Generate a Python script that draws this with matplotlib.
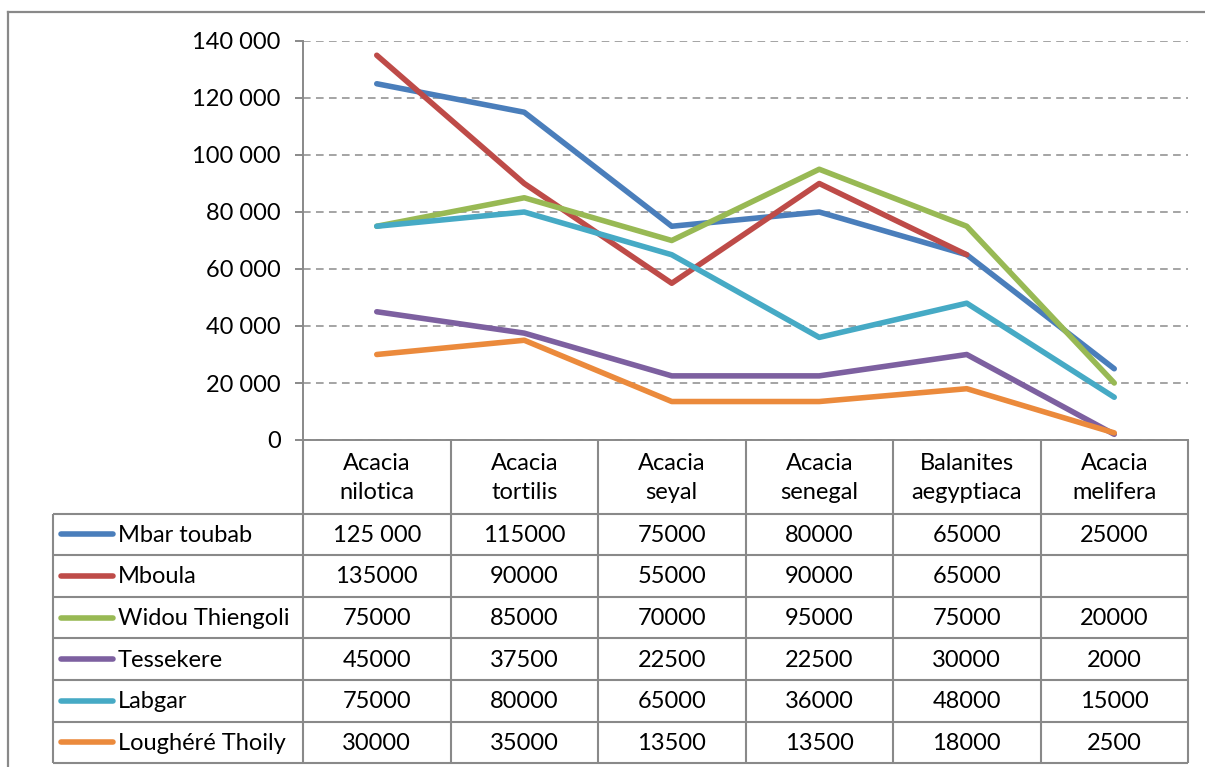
import numpy as np
import matplotlib
matplotlib.use("Agg")
import matplotlib.pyplot as plt
from matplotlib.lines import Line2D

plt.rcParams['font.family'] = ['Lato', 'DejaVu Sans']

species = ['Acacia\nnilotica', 'Acacia\ntortilis', 'Acacia\nseyal',
           'Acacia\nsenegal', 'Balanites\naegyptiaca', 'Acacia\nmelifera']

sites = ['Mbar toubab', 'Mboula', 'Widou Thiengoli', 'Tessekere', 'Labgar', 'Loughéré Thoily']

mbar_toubab = [125000, 115000, 75000, 80000, 65000, 25000]
mboula = [135000, 90000, 55000, 90000, 65000, np.nan]
widou = [75000, 85000, 70000, 95000, 75000, 20000]
tessekere = [45000, 37500, 22500, 22500, 30000, 2000]
labgar = [75000, 80000, 65000, 36000, 48000, 15000]
loughere = [30000, 35000, 13500, 13500, 18000, 2500]

series = [mbar_toubab, mboula, widou, tessekere, labgar, loughere]
colors = ['#4A7EBB', '#BE4B48', '#98B954', '#7D60A0', '#46AAC5', '#EB8A3C']

# the first cell is written with a space in the source table
cell_override = {(0, 0): '125 000'}

W, H = 1205, 767
grey = '#898989'
fs = 17

fig = plt.figure(figsize=(W / 100, H / 100), dpi=100)

# chart area
ax = fig.add_axes([303 / W, 1 - 440 / H, 885 / W, 399 / H])
x = np.arange(len(species)) + 0.5
for vals, c in zip(series, colors):
    ax.plot(x, vals, color=c, lw=4, solid_capstyle='round', solid_joinstyle='round')

ax.set_xlim(0, len(species))
ax.set_ylim(0, 140000)
yt = np.arange(0, 140001, 20000)
ax.set_yticks(yt)
ax.set_yticklabels(['{:,}'.format(v).replace(',', ' ') for v in yt], fontsize=fs)
ax.set_xticks([])
ax.yaxis.grid(True, ls=(0, (5, 3.5)), color='#8c8c8c', lw=1.1)
ax.set_axisbelow(True)
for s in ['top', 'right']:
    ax.spines[s].set_visible(False)
for s in ['left', 'bottom']:
    ax.spines[s].set_color(grey)
    ax.spines[s].set_linewidth(1.4)
ax.tick_params(axis='y', length=6, width=1.4, color=grey, pad=10)

# data table below the chart
tax = fig.add_axes([0, 0, 1, 1])
tax.set_xlim(0, W)
tax.set_ylim(H, 0)
tax.axis('off')

col0, col1 = 53, 303
cw = (1188 - col1) / len(species)
top, hdr, rh = 440, 513.5, 41.6
nrows = len(sites)
bottom = hdr + nrows * rh
lkw = dict(color=grey, lw=1.5, solid_capstyle='butt')

for j in range(len(species) + 1):
    xx = col1 + j * cw
    tax.plot([xx, xx], [top, bottom], **lkw)
tax.plot([col0, col0], [hdr, bottom], **lkw)
for i in range(nrows + 1):
    yy = hdr + i * rh
    tax.plot([col0, col1 + len(species) * cw], [yy, yy], **lkw)

for j, sp in enumerate(species):
    tax.text(col1 + (j + 0.5) * cw, (top + hdr) / 2 + 1, sp, ha='center', va='center',
             fontsize=fs, linespacing=1.45)

for i, (name, vals, c) in enumerate(zip(sites, series, colors)):
    yc = hdr + (i + 0.5) * rh
    tax.plot([61, 113], [yc, yc], color=c, lw=4, solid_capstyle='round')
    tax.text(118, yc + 1, name, ha='left', va='center', fontsize=fs)
    for j, v in enumerate(vals):
        if np.isnan(v):
            continue
        txt = cell_override.get((i, j), str(int(v)))
        tax.text(col1 + (j + 0.5) * cw, yc + 1, txt, ha='center', va='center', fontsize=fs)

# outer chart border
tax.add_line(Line2D([8, 8], [12, H + 5], color=grey, lw=1.6, clip_on=False))
tax.add_line(Line2D([8, W + 5], [12, 12], color=grey, lw=1.6, clip_on=False))

fig.savefig('out.png', dpi=100)
